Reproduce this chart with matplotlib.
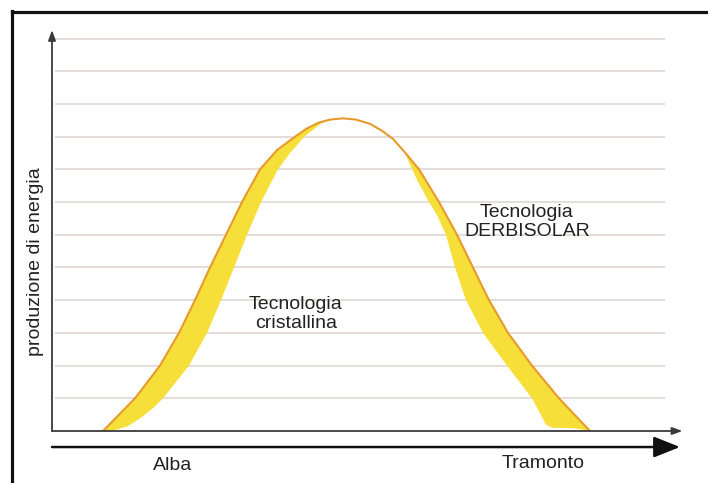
import matplotlib
matplotlib.use("Agg")
import matplotlib.pyplot as plt
from matplotlib.lines import Line2D
import numpy as np

plt.rcParams["font.family"] = ["Liberation Sans", "DejaVu Sans"]

# energy production over the day (arbitrary units, sunrise -> sunset)
derbi_x = [8.06, 13.11, 17.06, 20.06, 22.59, 24.96, 27.49, 30.02, 32.86, 35.55, 38.55, 40.28,
           42.02, 43.92, 45.97, 48.03, 50.24, 52.13, 53.87, 55.61, 57.98, 61.14, 63.98,
           66.51, 69.04, 72.04, 75.83, 80.09, 84.99]
derbi_y = [0, 1, 2, 3, 4, 5, 6, 7, 8, 8.59, 9.02, 9.25,
           9.42, 9.52, 9.56, 9.52, 9.39, 9.18, 8.93, 8.55, 8, 7, 6,
           5, 4, 3, 2, 1, 0]

crist_x = [8.06, 9.48, 12.0, 14.22, 15.96, 17.54, 21.64, 24.49, 26.70, 28.75, 30.81, 33.02,
           35.70, 37.6, 39.97, 42.65, 43.92, 45.97, 48.03, 50.24, 52.13, 53.87, 55.61, 57.66,
           59.56, 60.82, 62.24, 63.67, 65.40, 68.09, 71.88, 75.83, 78.04, 78.99, 82.62, 84.99]
crist_y = [0, 0, 0.15, 0.43, 0.7, 1, 2, 3, 4, 5, 6, 7,
           8, 8.5, 9.02, 9.42, 9.52, 9.56, 9.52, 9.39, 9.18, 8.93, 8.55, 7.68,
           7, 6.6, 6, 5, 4, 3, 2, 1, 0.2, 0.1, 0.08, 0]

grid_levels = list(range(1, 13))

YELLOW = "#f6df38"
ORANGE = "#e69a2e"
GRID = "#ddd3d1"
AXIS = "#3a3a3a"

fig = plt.figure(figsize=(7.08, 4.83), dpi=100)
fig.patch.set_facecolor("white")

# border (only top and left edges visible in the crop)
fig.add_artist(Line2D([11.5 / 708, 1.0], [1 - 12 / 483] * 2, color="#111111", lw=2.3))
fig.add_artist(Line2D([12 / 708] * 2, [0.0, 1 - 11 / 483], color="#111111", lw=2.3))

ax = fig.add_axes([52 / 708, 52 / 483, 633 / 708, 401 / 483])
ax.set_xlim(0, 100)
ax.set_ylim(0, 12.26)
ax.axis("off")

ax.hlines(grid_levels, 0.5, 96.8, color=GRID, lw=1.1, zorder=1)

# yellow band between the two technologies
poly_x = np.concatenate([derbi_x, crist_x[::-1]])
poly_y = np.concatenate([derbi_y, crist_y[::-1]])
ax.fill(poly_x, poly_y, color=YELLOW, lw=0, zorder=2)
ax.plot(derbi_x, derbi_y, color=ORANGE, lw=1.5, zorder=3,
        solid_capstyle="round", solid_joinstyle="round")

# axes with arrows
small = dict(arrowstyle="-|>,head_length=0.6,head_width=0.22", color=AXIS, lw=1.3,
             mutation_scale=10, shrinkA=0, shrinkB=0)
ax.annotate("", xy=(0, 12.26), xytext=(0, 0), arrowprops=small, annotation_clip=False)
ax.annotate("", xy=(99.6, 0), xytext=(0, 0), arrowprops=small, annotation_clip=False)
big = dict(arrowstyle="-|>,head_length=0.8,head_width=0.32", color="#111111", lw=1.8,
           mutation_scale=20, shrinkA=0, shrinkB=0)
ax.annotate("", xy=(99.2, -0.49), xytext=(0, -0.49), arrowprops=big, annotation_clip=False)

ax.text(19.0, -1.04, "Alba", ha="center", va="center", fontsize=14, color="#222222", clip_on=False)
ax.text(77.6, -1.0, "Tramonto", ha="center", va="center", fontsize=14, color="#222222", clip_on=False)
ax.text(-2.53, 5.17, "produzione di energia", rotation=90, ha="center", va="center",
        fontsize=14, color="#222222", clip_on=False)
ax.text(38.5, 3.58, "Tecnologia\ncristallina", ha="center", va="center", fontsize=14,
        color="#222222", linespacing=1.15)
ax.text(75.0, 6.39, "Tecnologia\nDERBISOLAR", ha="center", va="center", fontsize=14,
        color="#222222", linespacing=1.15)

fig.savefig("out.png", dpi=100, facecolor=fig.get_facecolor())
